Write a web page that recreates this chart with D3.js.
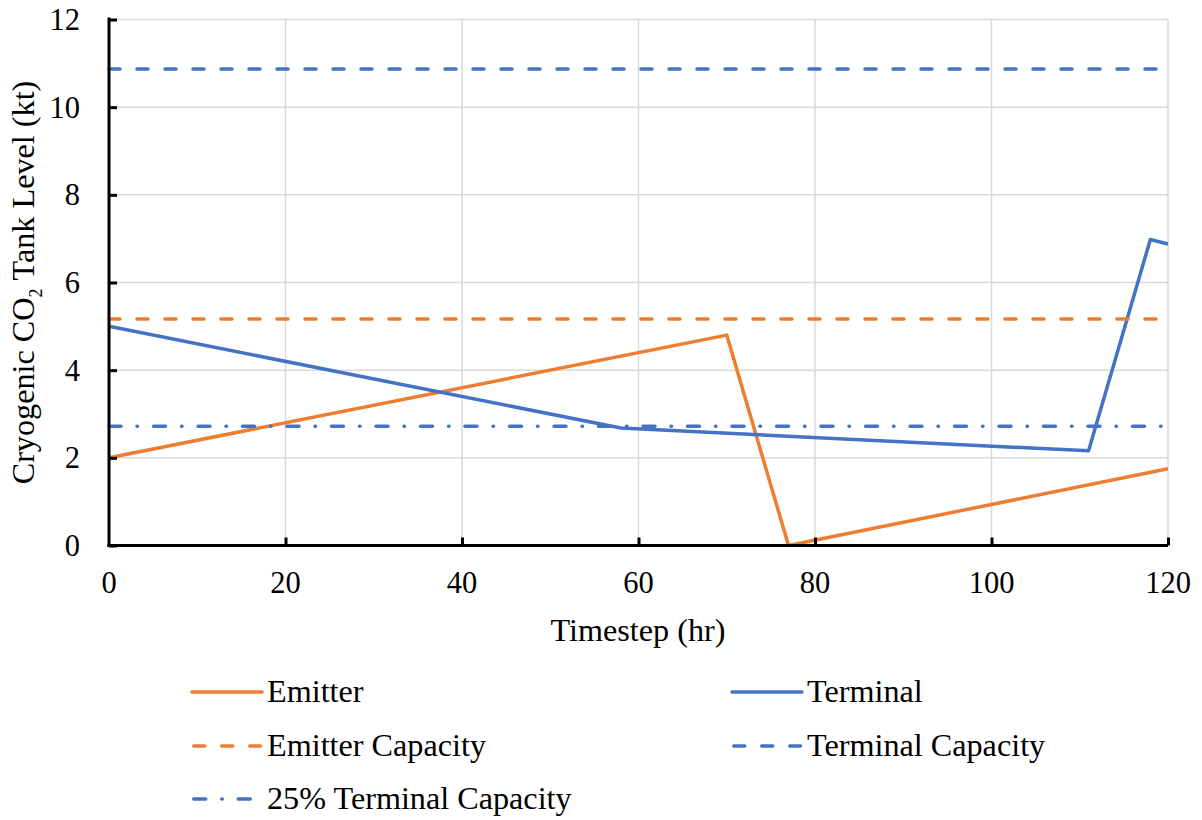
<!DOCTYPE html>
<html>
<head>
<meta charset="utf-8">
<script src="https://cdn.jsdelivr.net/npm/d3@7"></script>
</head>
<body style="margin:0;padding:0;background:#fff;">
<svg id="chart" width="1202" height="820"></svg>
<script>
// Tank levels over the 120 h horizon (kt)
const emitterHours = [0, 70, 77, 120];
const emitterLevel = [2.0, 4.8, 0.0, 1.75];
const terminalHours = [0, 58, 111, 118, 120];
const terminalLevel = [5.0, 2.68, 2.16, 6.98, 6.88];

// Constant capacity levels (kt)
const emitterCapacity = 5.17;
const terminalCapacity = 10.87;
const terminalQuarterCapacity = 2.72;

const xTicks = [0, 20, 40, 60, 80, 100, 120];
const yTicks = [0, 2, 4, 6, 8, 10, 12];

const seriesNames = ["Emitter", "Terminal", "Emitter Capacity", "Terminal Capacity", "25% Terminal Capacity"];

const ORANGE = "#ED7D31";
const BLUE = "#4472C4";
const SERIF = '"Liberation Serif"';
const TICK_FONT = 30.5;
const LABEL_FONT = 32.2;

const svg = d3.select("#chart");
const plot = { left: 109, right: 1168, top: 19.5, bottom: 545.5 };

const x = d3.scaleLinear().domain([0, 120]).range([plot.left, plot.right]);
const y = d3.scaleLinear().domain([0, 12]).range([plot.bottom, plot.top]);

// Gridlines
const grid = svg.append("g").attr("stroke", "#d9d9d9").attr("stroke-width", 1.5);
grid.selectAll("line.h").data(yTicks.filter(d => d > 0)).join("line")
  .attr("x1", plot.left).attr("x2", plot.right)
  .attr("y1", d => y(d)).attr("y2", d => y(d));
grid.selectAll("line.v").data(xTicks.filter(d => d > 0)).join("line")
  .attr("y1", plot.top).attr("y2", plot.bottom)
  .attr("x1", d => x(d)).attr("x2", d => x(d));

// Series definitions
const dashStyles = {
  solid: null,
  dash: "11,17",
  dashDot: "12,16,0.5,16"
};

const series = [
  { name: seriesNames[0], color: ORANGE, dash: dashStyles.solid,
    pts: emitterHours.map((h, i) => [h, emitterLevel[i]]) },
  { name: seriesNames[1], color: BLUE, dash: dashStyles.solid,
    pts: terminalHours.map((h, i) => [h, terminalLevel[i]]) },
  { name: seriesNames[2], color: ORANGE, dash: dashStyles.dash,
    pts: [[0, emitterCapacity], [120, emitterCapacity]] },
  { name: seriesNames[3], color: BLUE, dash: dashStyles.dash,
    pts: [[0, terminalCapacity], [120, terminalCapacity]] },
  { name: seriesNames[4], color: BLUE, dash: dashStyles.dashDot,
    pts: [[0, terminalQuarterCapacity], [120, terminalQuarterCapacity]] }
];

const line = d3.line().x(d => x(d[0])).y(d => y(d[1]));

svg.append("g").selectAll("path").data(series).join("path")
  .attr("d", d => line(d.pts))
  .attr("fill", "none")
  .attr("stroke", d => d.color)
  .attr("stroke-width", 3.5)
  .attr("stroke-linejoin", "round")
  .attr("stroke-linecap", d => d.dash ? "round" : "butt")
  .attr("stroke-dasharray", d => d.dash);

// Axes
const yAxis = svg.append("g").attr("transform", `translate(${plot.left},0)`)
  .call(d3.axisRight(y).tickValues(yTicks).tickSize(8).tickFormat(""));
const xAxis = svg.append("g").attr("transform", `translate(0,${plot.bottom})`)
  .call(d3.axisTop(x).tickValues(xTicks).tickSize(8).tickFormat(""));
[yAxis, xAxis].forEach(g => {
  g.select(".domain").attr("stroke", "#000").attr("stroke-width", 3);
  g.selectAll(".tick line").attr("stroke", "#000").attr("stroke-width", 3);
});
yAxis.select(".domain").attr("d", `M0,${plot.top - 2}V${plot.bottom + 1.5}`);
xAxis.select(".domain").attr("d", `M${plot.left - 1.5},0H${plot.right}`);
xAxis.selectAll(".tick").filter(d => d === 0).remove();

// Tick labels
svg.append("g").selectAll("text").data(yTicks).join("text")
  .style("font-family", SERIF)
  .style("font-size", TICK_FONT + "px")
  .attr("x", 80).attr("y", d => y(d))
  .attr("dy", "0.34em")
  .attr("text-anchor", "end")
  .text(d => d);
svg.append("g").selectAll("text").data(xTicks).join("text")
  .style("font-family", SERIF)
  .style("font-size", TICK_FONT + "px")
  .attr("x", d => x(d)).attr("y", 593)
  .attr("text-anchor", "middle")
  .text(d => d);

// Axis titles
svg.append("text")
  .style("font-family", SERIF)
  .style("font-size", LABEL_FONT + "px")
  .attr("x", 638).attr("y", 641)
  .attr("text-anchor", "middle")
  .text("Timestep (hr)");

const yTitle = svg.append("text")
  .style("font-family", SERIF)
  .style("font-size", LABEL_FONT + "px")
  .attr("transform", "translate(34,282.5) rotate(-90)");
yTitle.append("tspan").text("Cryogenic CO");
yTitle.append("tspan").style("font-size", "18px").attr("dy", 8).text("2");
yTitle.append("tspan").attr("dy", -8).text("\u00a0Tank Level (kt)");
// centre the whole title (all tspans) on the plot's vertical middle
const titleLen = yTitle.node().getComputedTextLength();
yTitle.attr("x", -titleLen / 2);

// Legend
const legendPos = [
  { x: 192, y: 692 }, { x: 732, y: 692 },
  { x: 192, y: 746 }, { x: 732, y: 746 },
  { x: 192, y: 799 }
];
const legend = svg.append("g").selectAll("g").data(series).join("g")
  .attr("transform", (d, i) => `translate(${legendPos[i].x},${legendPos[i].y})`);
legend.append("line")
  .attr("x1", d => d.dash ? 1.75 : 0).attr("x2", d => d.dash ? 68.5 : 70)
  .attr("stroke", d => d.color)
  .attr("stroke-width", 3.5)
  .attr("stroke-linecap", "round")
  .attr("stroke-dasharray", d => d.dash);
legend.append("text")
  .style("font-family", SERIF)
  .style("font-size", LABEL_FONT + "px")
  .attr("x", 75).attr("y", 0).attr("dy", "0.3em")
  .text(d => d.name);
</script>
</body>
</html>
